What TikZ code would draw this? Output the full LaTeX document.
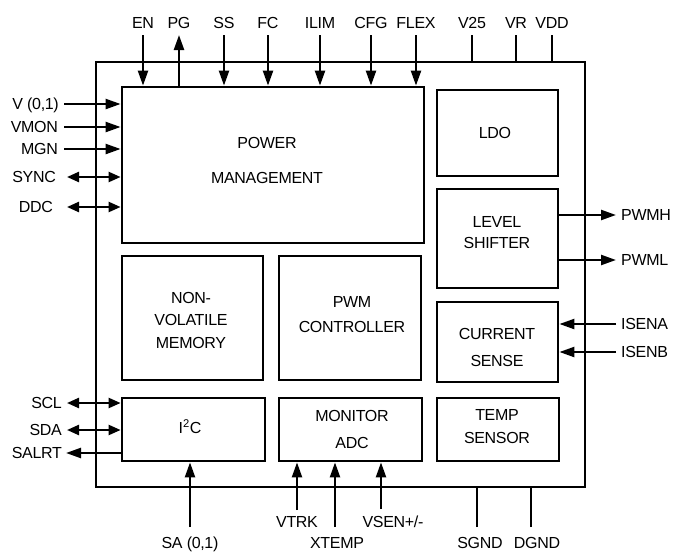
\documentclass[tikz,border=0pt]{standalone}
\usepackage{fontspec}
\setmainfont{Liberation Sans}[LetterSpace=-2]
\usetikzlibrary{arrows.meta}
\begin{document}
\begin{tikzpicture}[x=1pt,y=-1pt,
  box/.style={draw,line width=2.8pt,inner sep=0pt},
  txt/.style={font=\fontsize{16}{22}\selectfont, align=center, inner sep=0pt},
  lbl/.style={font=\fontsize{16}{19}\selectfont, inner sep=0pt, text height=11.5pt, text depth=0pt},
  wire/.style={line width=2.3pt},
  arr/.style={wire,-{Triangle[length=15pt,width=10pt]}},
  darr/.style={wire,{Triangle[length=12pt,width=10pt]}-{Triangle[length=12pt,width=10pt]}},
]
\useasboundingbox (0,0) rectangle (673,552);
% boxes
\node[box,minimum width=489pt,minimum height=425pt] (chip) at (340.5,274.5) {};
\node[box,minimum width=302pt,minimum height=156pt] (pm) at (273,165) {};
\node[box,minimum width=121pt,minimum height=86pt] (ldo) at (497.5,133) {};
\node[box,minimum width=121pt,minimum height=99pt] (ls) at (497.5,238.5) {};
\node[box,minimum width=121pt,minimum height=80pt] (cs) at (497.5,342) {};
\node[box,minimum width=122pt,minimum height=63pt] (ts) at (498,429.5) {};
\node[box,minimum width=141pt,minimum height=124pt] (nvm) at (192.5,318) {};
\node[box,minimum width=142pt,minimum height=124pt] (pwm) at (350,318) {};
\node[box,minimum width=143pt,minimum height=63pt] (i2c) at (193.5,429.5) {};
\node[box,minimum width=143pt,minimum height=63pt] (adc) at (350.5,429.5) {};
% box texts
\node[txt,font=\fontsize{16}{35}\selectfont] (pmt) at (267,160) {POWER\\MANAGEMENT};
\node[txt] (ldot) at (495,133) {LDO};
\node[txt,font=\fontsize{16}{21}\selectfont] (lst) at (497,233) {LEVEL\\SHIFTER};
\node[txt,font=\fontsize{16}{27}\selectfont] (cst) at (497,347) {CURRENT\\SENSE};
\node[txt,font=\fontsize{16}{23}\selectfont] (tst) at (497,427) {TEMP\\SENSOR};
\node[txt,font=\fontsize{16}{22.5}\selectfont] (nvmt) at (191,320) {NON-\\VOLATILE\\MEMORY};
\node[txt,font=\fontsize{16}{25}\selectfont] (pwmt) at (352,315) {PWM\\CONTROLLER};
\node[txt] (i2ct) at (190,427) {I\textsuperscript{2}C};
\node[txt,font=\fontsize{16}{27}\selectfont] (adct) at (352,429) {MONITOR\\ADC};
% top pins
\foreach \n/\x/\t in {en/143/EN,pg/179/PG,ss/224/SS,fc/268/FC,ilim/320/ILIM,cfg/371/CFG,flex/416/FLEX,vtf/472/V25,vr/516/VR,vdd/552/VDD}{
  \node[lbl] (\n L) at (\x,22.5) {\t};
  \coordinate (\n P) at (\x,35);
}
\foreach \n in {en,ss,fc,ilim,cfg,flex}{ \draw[arr] (\n P) -- (\n P |- pm.north); }
\draw[arr] (pgP |- pm.north) -- (pgP);
\foreach \n in {vtf,vr,vdd}{ \draw[wire] (\n P) -- (\n P |- chip.north); }
% left pins
\node[lbl,anchor=east] (v01L) at (59,104) {V (0,1)};
\node[lbl,anchor=east] (vmonL) at (58,127) {VMON};
\node[lbl,anchor=east] (mgnL) at (58,149) {MGN};
\node[lbl,anchor=east] (syncL) at (56,177) {SYNC};
\node[lbl,anchor=east] (ddcL) at (53,207) {DDC};
\node[lbl,anchor=east] (sclL) at (62,403) {SCL};
\node[lbl,anchor=east] (sdaL) at (62,430) {SDA};
\node[lbl,anchor=east] (salrtL) at (62,453) {SALRT};
\coordinate (v01P) at (64,104);
\coordinate (vmonP) at (64,127);
\coordinate (mgnP) at (64,149);
\coordinate (syncP) at (67,177);
\coordinate (ddcP) at (67,207);
\coordinate (sclP) at (67,403);
\coordinate (sdaP) at (67,430);
\coordinate (salrtP) at (66,453);
\draw[arr] (v01P) -- (v01P -| pm.west);
\draw[arr] (vmonP) -- (vmonP -| pm.west);
\draw[arr] (mgnP) -- (mgnP -| pm.west);
\draw[darr] (syncP) -- (syncP -| pm.west);
\draw[darr] (ddcP) -- (ddcP -| pm.west);
\draw[darr] (sclP) -- (sclP -| i2c.west);
\draw[darr] (sdaP) -- (sdaP -| i2c.west);
\draw[arr] (salrtP -| i2c.west) -- (salrtP);
% right pins
\node[lbl,anchor=west] (pwmhL) at (621,215) {PWMH};
\node[lbl,anchor=west] (pwmlL) at (621,260) {PWML};
\node[lbl,anchor=west] (isenaL) at (621,324) {ISENA};
\node[lbl,anchor=west] (isenbL) at (621,352) {ISENB};
\coordinate (pwmhP) at (616,215);
\coordinate (pwmlP) at (616,260);
\coordinate (isenaP) at (616,324);
\coordinate (isenbP) at (616,352);
\draw[arr] (pwmhP -| ls.east) -- (pwmhP);
\draw[arr] (pwmlP -| ls.east) -- (pwmlP);
\draw[arr] (isenaP) -- (isenaP -| cs.east);
\draw[arr] (isenbP) -- (isenbP -| cs.east);
% bottom pins
\node[lbl] (saL) at (190,543) {SA (0,1)};
\node[lbl] (vtrkL) at (297,522) {VTRK};
\node[lbl] (xtempL) at (337,543) {XTEMP};
\node[lbl] (vsenL) at (393,522) {VSEN+/-};
\node[lbl] (sgndL) at (480,543) {SGND};
\node[lbl] (dgndL) at (537,543) {DGND};
\coordinate (saP) at (190,527);
\coordinate (vtrkP) at (297,510);
\coordinate (xtempP) at (335,527);
\coordinate (vsenP) at (381,509);
\coordinate (sgndP) at (477,527);
\coordinate (dgndP) at (531,527);
\draw[arr] (saP) -- (saP |- i2c.south);
\draw[arr] (vtrkP) -- (vtrkP |- adc.south);
\draw[arr] (xtempP) -- (xtempP |- adc.south);
\draw[arr] (vsenP) -- (vsenP |- adc.south);
\draw[wire] (sgndP) -- (sgndP |- chip.south);
\draw[wire] (dgndP) -- (dgndP |- chip.south);
\end{tikzpicture}
\end{document}
